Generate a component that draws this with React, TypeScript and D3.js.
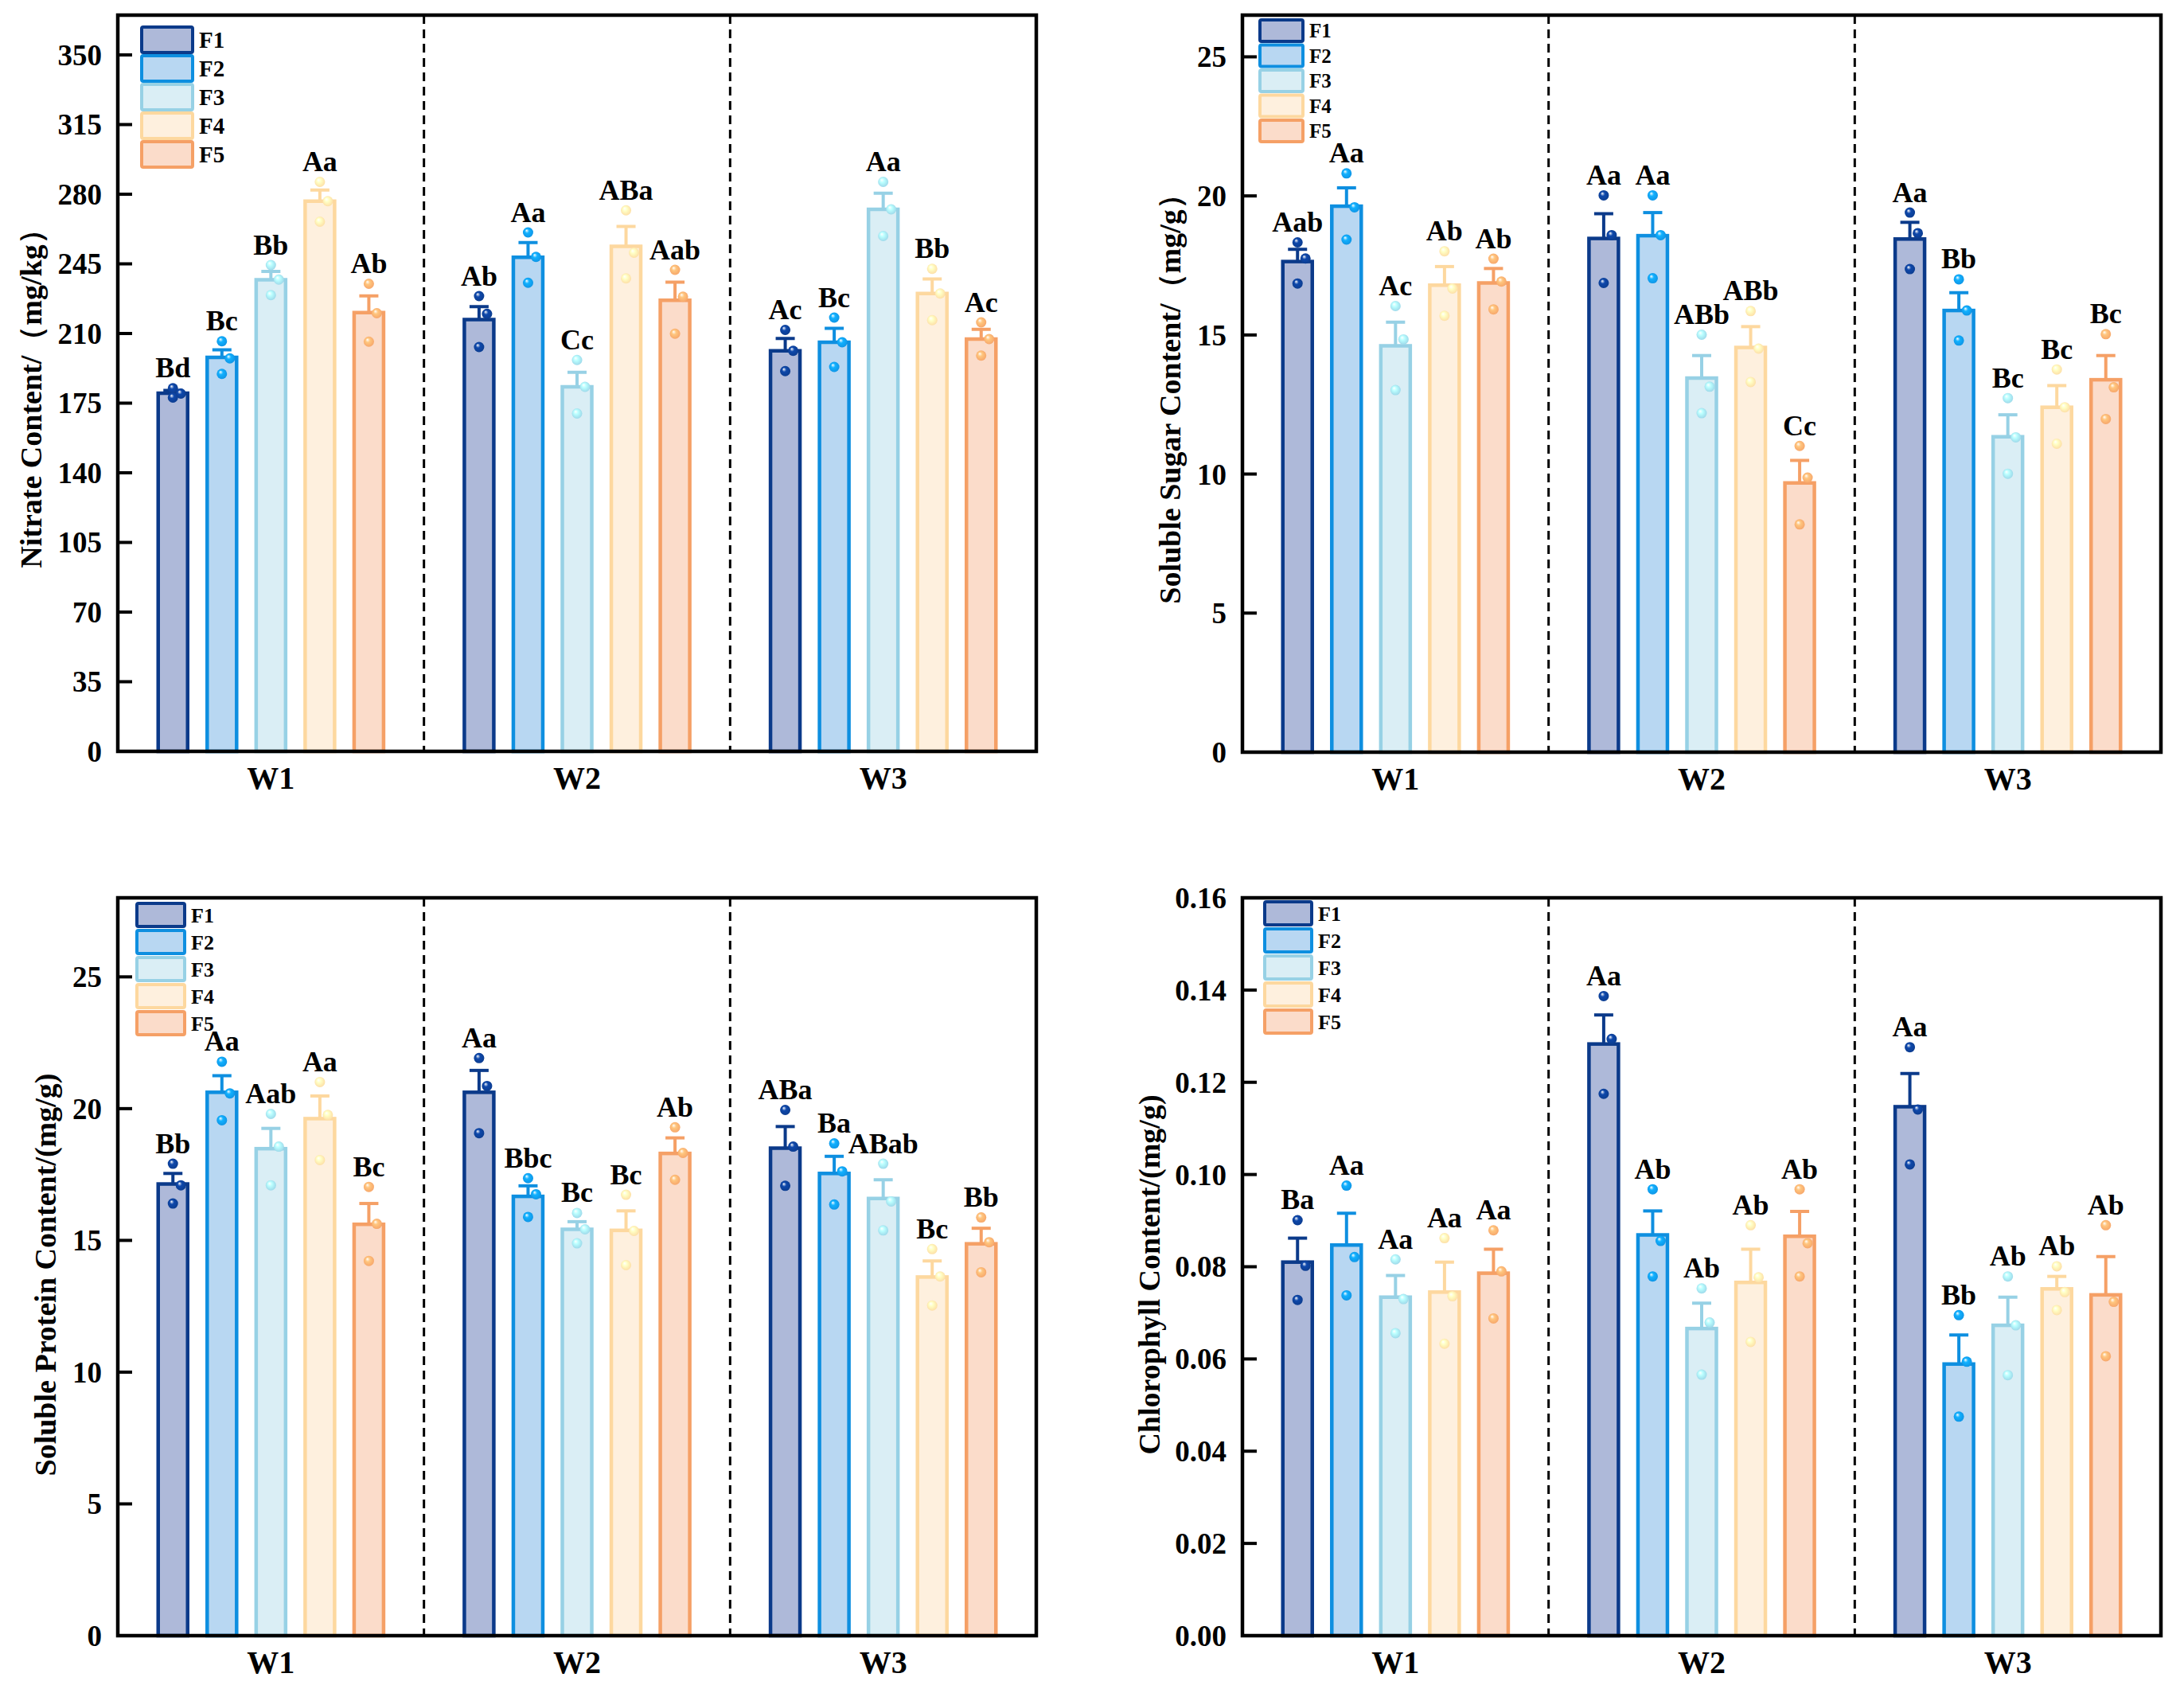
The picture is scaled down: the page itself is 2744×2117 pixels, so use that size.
import React from "react";
import * as d3 from "d3";

const groups = ["W1", "W2", "W3"];
const seriesNames = ["F1", "F2", "F3", "F4", "F5"];
const fillColors = ["#AEB9D9", "#B8D7F2", "#DAEEF5", "#FEF0DE", "#FBDCCA"];
const strokeColors = ["#0B3A8A", "#0E8FE0", "#97D1E5", "#FDD89F", "#F5A066"];

// Nitrate (mg/kg)
const nitrateMeans = [
  [180, 198, 237, 276.5, 220.5],
  [217, 248.3, 183.2, 253.8, 226.7],
  [201.3, 205.6, 272.4, 230.1, 207.2],
];
const nitrateSE = [
  [1.4, 3.8, 4.2, 5.6, 8.4],
  [6.5, 7.4, 7.3, 10.0, 9.1],
  [6.2, 7.0, 8.1, 7.3, 4.9],
];
const nitratePoints = [
  [[182.5, 179.8, 177.8], [206.1, 197.5, 189.7], [244.4, 237.1, 229.3], [286.2, 276.5, 266.2], [235.0, 220.2, 205.9]],
  [[228.8, 219.9, 203.2], [260.8, 248.5, 235.5], [196.7, 183.2, 169.8], [271.9, 250.6, 237.7], [242.0, 228.5, 209.9]],
  [[211.8, 201.3, 191.1], [218.0, 205.6, 193.2], [286.2, 272.4, 259.0], [242.5, 230.1, 216.7], [215.6, 207.2, 198.9]],
];
const nitrateLetters = [
  ["Bd", "Bc", "Bb", "Aa", "Ab"],
  ["Ab", "Aa", "Cc", "ABa", "Aab"],
  ["Ac", "Bc", "Aa", "Bb", "Ac"],
];
const nitrateTicks = [0, 35, 70, 105, 140, 175, 210, 245, 280, 315, 350];

// Soluble sugar (mg/g)
const sugarMeans = [
  [17.64, 19.63, 14.61, 16.79, 16.87],
  [18.47, 18.57, 13.45, 14.55, 9.68],
  [18.45, 15.88, 11.34, 12.4, 13.39],
];
const sugarSE = [
  [0.44, 0.66, 0.85, 0.67, 0.52],
  [0.89, 0.83, 0.81, 0.75, 0.81],
  [0.6, 0.64, 0.79, 0.78, 0.87],
];
const sugarPoints = [
  [[18.33, 17.75, 16.85], [20.81, 19.59, 18.43], [16.04, 14.84, 13.02], [18.01, 16.67, 15.69], [17.74, 16.92, 15.92]],
  [[20.02, 18.59, 16.87], [20.02, 18.59, 17.04], [15.01, 13.14, 12.19], [15.86, 14.51, 13.31], [11.01, 9.87, 8.19]],
  [[19.4, 18.66, 17.37], [17.0, 15.88, 14.8], [12.73, 11.32, 10.01], [13.76, 12.4, 11.09], [15.03, 13.12, 11.98]],
];
const sugarLetters = [
  ["Aab", "Aa", "Ac", "Ab", "Ab"],
  ["Aa", "Aa", "ABb", "ABb", "Cc"],
  ["Aa", "Bb", "Bc", "Bc", "Bc"],
];
const sugarTicks = [0, 5, 10, 15, 20, 25];

// Soluble protein (mg/g)
const proteinMeans = [
  [17.14, 20.62, 18.48, 19.62, 15.61],
  [20.62, 16.67, 15.42, 15.38, 18.3],
  [18.5, 17.54, 16.59, 13.61, 14.87],
];
const proteinSE = [
  [0.4, 0.63, 0.77, 0.86, 0.79],
  [0.83, 0.4, 0.29, 0.74, 0.59],
  [0.82, 0.65, 0.71, 0.61, 0.59],
];
const proteinPoints = [
  [[17.91, 17.09, 16.4], [21.78, 20.58, 19.56], [19.8, 18.56, 17.09], [21.01, 19.76, 18.05], [17.03, 15.63, 14.22]],
  [[21.92, 20.86, 19.07], [17.36, 16.75, 15.89], [16.04, 15.42, 14.89], [16.73, 15.36, 14.06], [19.29, 18.32, 17.3]],
  [[19.95, 18.56, 17.07], [18.68, 17.62, 16.36], [17.91, 16.48, 15.38], [14.67, 13.63, 12.53], [15.87, 14.93, 13.79]],
];
const proteinLetters = [
  ["Bb", "Aa", "Aab", "Aa", "Bc"],
  ["Aa", "Bbc", "Bc", "Bc", "Ab"],
  ["ABa", "Ba", "ABab", "Bc", "Bb"],
];
const proteinTicks = [0, 5, 10, 15, 20, 25];

// Chlorophyll (mg/g)
const chlMeans = [
  [0.081, 0.0847, 0.0734, 0.0745, 0.0786],
  [0.1283, 0.0869, 0.0666, 0.0766, 0.0866],
  [0.1147, 0.0589, 0.0673, 0.0752, 0.0739],
];
const chlSE = [
  [0.0052, 0.0069, 0.0047, 0.0065, 0.0052],
  [0.0063, 0.0052, 0.0055, 0.0072, 0.0054],
  [0.0072, 0.0063, 0.0061, 0.0027, 0.0083],
];
const chlPoints = [
  [[0.0901, 0.0802, 0.0728], [0.0976, 0.0821, 0.0738], [0.0816, 0.073, 0.0656], [0.0862, 0.0736, 0.0633], [0.0879, 0.079, 0.0688]],
  [[0.1387, 0.1294, 0.1175], [0.0968, 0.0856, 0.0779], [0.0753, 0.0679, 0.0566], [0.089, 0.0777, 0.0637], [0.0968, 0.0851, 0.0779]],
  [[0.1276, 0.1141, 0.1022], [0.0695, 0.0594, 0.0475], [0.0779, 0.0673, 0.0565], [0.0801, 0.0745, 0.0706], [0.089, 0.0724, 0.0606]],
];
const chlLetters = [
  ["Ba", "Aa", "Aa", "Aa", "Aa"],
  ["Aa", "Ab", "Ab", "Ab", "Ab"],
  ["Aa", "Bb", "Ab", "Ab", "Ab"],
];
const chlTicks = [0, 0.02, 0.04, 0.06, 0.08, 0.1, 0.12, 0.14, 0.16];

const FONT = "'Liberation Serif', 'Times New Roman', serif";

type PanelProps = {
  left: number; right: number; top: number; bottom: number;
  yMax: number; ticks: number[]; fmt: (v: number) => string;
  means: number[][]; ses: number[][]; points: number[][][]; letters: string[][];
  title: string; titleX: number;
  legend: { x: number; y: number; w: number; h: number; step: number; font: number };
};

const Panel: React.FC<PanelProps> = (p) => {
  const { left, right, top, bottom } = p;
  const x = d3.scaleBand<string>().domain(groups).range([left, right]).padding(0);
  const gw = x.bandwidth();
  const spacing = gw * 0.16;
  const xs = d3.scaleBand<string>().domain(seriesNames).range([-spacing * 2.5, spacing * 2.5]).padding(0);
  const y = d3.scaleLinear().domain([0, p.yMax]).range([bottom, top]);
  const barW = 37;
  const r = 6.5;
  const jitter = [0, 10, 0];
  const cy = (top + bottom) / 2 + 10;
  return (
    <g>
      {/* dashed separators */}
      {groups.slice(1).map((g) => (
        <line key={g} x1={x(g)!} x2={x(g)!} y1={top} y2={bottom} stroke="#000" strokeWidth={3} strokeDasharray="11,7" />
      ))}
      {groups.map((g, gi) =>
        seriesNames.map((s, si) => {
          const cx = x(g)! + gw / 2 + xs(s)! + xs.bandwidth() / 2;
          const m = p.means[gi][si];
          const se = p.ses[gi][si];
          const pts = p.points[gi][si];
          const topVal = Math.max(m + se, ...pts);
          return (
            <g key={g + s}>
              <rect x={cx - barW / 2} y={y(m)} width={barW} height={y(0) - y(m)} fill={fillColors[si]} stroke={strokeColors[si]} strokeWidth={4.5} />
              <line x1={cx} x2={cx} y1={y(m)} y2={y(m + se)} stroke={strokeColors[si]} strokeWidth={4} />
              <line x1={cx - 12} x2={cx + 12} y1={y(m + se)} y2={y(m + se)} stroke={strokeColors[si]} strokeWidth={4} />
              {pts.map((v, k) => (
                <circle key={k} cx={cx + jitter[k]} cy={y(v)} r={r} fill={`url(#ball${si})`} />
              ))}
              <text x={cx} y={y(topVal) - r - 7} textAnchor="middle" fontFamily={FONT} fontWeight="bold" fontSize={36}>
                {p.letters[gi][si]}
              </text>
            </g>
          );
        })
      )}
      {/* axes frame */}
      <rect x={left} y={top} width={right - left} height={bottom - top} fill="none" stroke="#000" strokeWidth={4.5} />
      {p.ticks.map((t) => (
        <g key={t}>
          <line x1={left} x2={left + 18} y1={y(t)} y2={y(t)} stroke="#000" strokeWidth={4} />
          <text x={left - 20} y={y(t)} dy="0.35em" textAnchor="end" fontFamily={FONT} fontWeight="bold" fontSize={37}>
            {p.fmt(t)}
          </text>
        </g>
      ))}
      {groups.map((g) => (
        <text key={g} x={x(g)! + gw / 2} y={bottom + 47} textAnchor="middle" fontFamily={FONT} fontWeight="bold" fontSize={40}>
          {g}
        </text>
      ))}
      <text
        x={p.titleX}
        y={cy}
        transform={`rotate(-90, ${p.titleX}, ${cy})`}
        dy="0.35em"
        textAnchor="middle"
        fontFamily={FONT}
        fontWeight="bold"
        fontSize={38}
      >
        {p.title}
      </text>
      {/* legend */}
      {seriesNames.map((s, si) => (
        <g key={s}>
          <rect
            x={p.legend.x}
            y={p.legend.y + si * p.legend.step}
            width={p.legend.w}
            height={p.legend.h}
            rx={2}
            fill={fillColors[si]}
            stroke={strokeColors[si]}
            strokeWidth={4}
          />
          <text
            x={p.legend.x + p.legend.w + 8}
            y={p.legend.y + si * p.legend.step + p.legend.h / 2}
            dy="0.35em"
            fontFamily={FONT}
            fontWeight="bold"
            fontSize={p.legend.font}
          >
            {s}
          </text>
        </g>
      ))}
    </g>
  );
};

export default function App() {
  const f0 = (v: number) => d3.format("d")(v);
  const f2 = (v: number) => d3.format(".2f")(v);
  return (
    <svg
      width={2744}
      height={2117}
      viewBox="0 0 2744 2117"
      style={{ position: "absolute", left: 0, top: 0, background: "#fff", display: "block" }}
    >
      <defs>
        {strokeColors.map((c, i) => (
          <radialGradient key={i} id={`ball${i}`} cx="0.5" cy="0.5" r="0.6" fx="0.35" fy="0.3">
            <stop offset="0%" stopColor="#ffffff" />
            <stop offset="35%" stopColor={d3.color(c)!.brighter(0.6).formatHex()} />
            <stop offset="100%" stopColor={c} />
          </radialGradient>
        ))}
      </defs>
      <rect x={0} y={0} width={2744} height={2117} fill="#fff" />
      <Panel
        left={148} right={1302} top={19} bottom={944}
        yMax={370} ticks={nitrateTicks} fmt={f0}
        means={nitrateMeans} ses={nitrateSE} points={nitratePoints} letters={nitrateLetters}
        title="Nitrate Content/（mg/kg）" titleX={39}
        legend={{ x: 178, y: 34, w: 64, h: 32, step: 36, font: 29 }}
      />
      <Panel
        left={1561} right={2715} top={19} bottom={945}
        yMax={26.5} ticks={sugarTicks} fmt={f0}
        means={sugarMeans} ses={sugarSE} points={sugarPoints} letters={sugarLetters}
        title="Soluble Sugar Content/（mg/g）" titleX={1470}
        legend={{ x: 1583, y: 25, w: 54, h: 27, step: 31.5, font: 25 }}
      />
      <Panel
        left={148} right={1302} top={1128} bottom={2055}
        yMax={28} ticks={proteinTicks} fmt={f0}
        means={proteinMeans} ses={proteinSE} points={proteinPoints} letters={proteinLetters}
        title="Soluble Protein Content/(mg/g)" titleX={57}
        legend={{ x: 172, y: 1135, w: 60, h: 29, step: 34, font: 26 }}
      />
      <Panel
        left={1561} right={2715} top={1128} bottom={2055}
        yMax={0.16} ticks={chlTicks} fmt={f2}
        means={chlMeans} ses={chlSE} points={chlPoints} letters={chlLetters}
        title="Chlorophyll Content/(mg/g)" titleX={1444}
        legend={{ x: 1589, y: 1133, w: 59, h: 29, step: 34, font: 26 }}
      />
    </svg>
  );
}
